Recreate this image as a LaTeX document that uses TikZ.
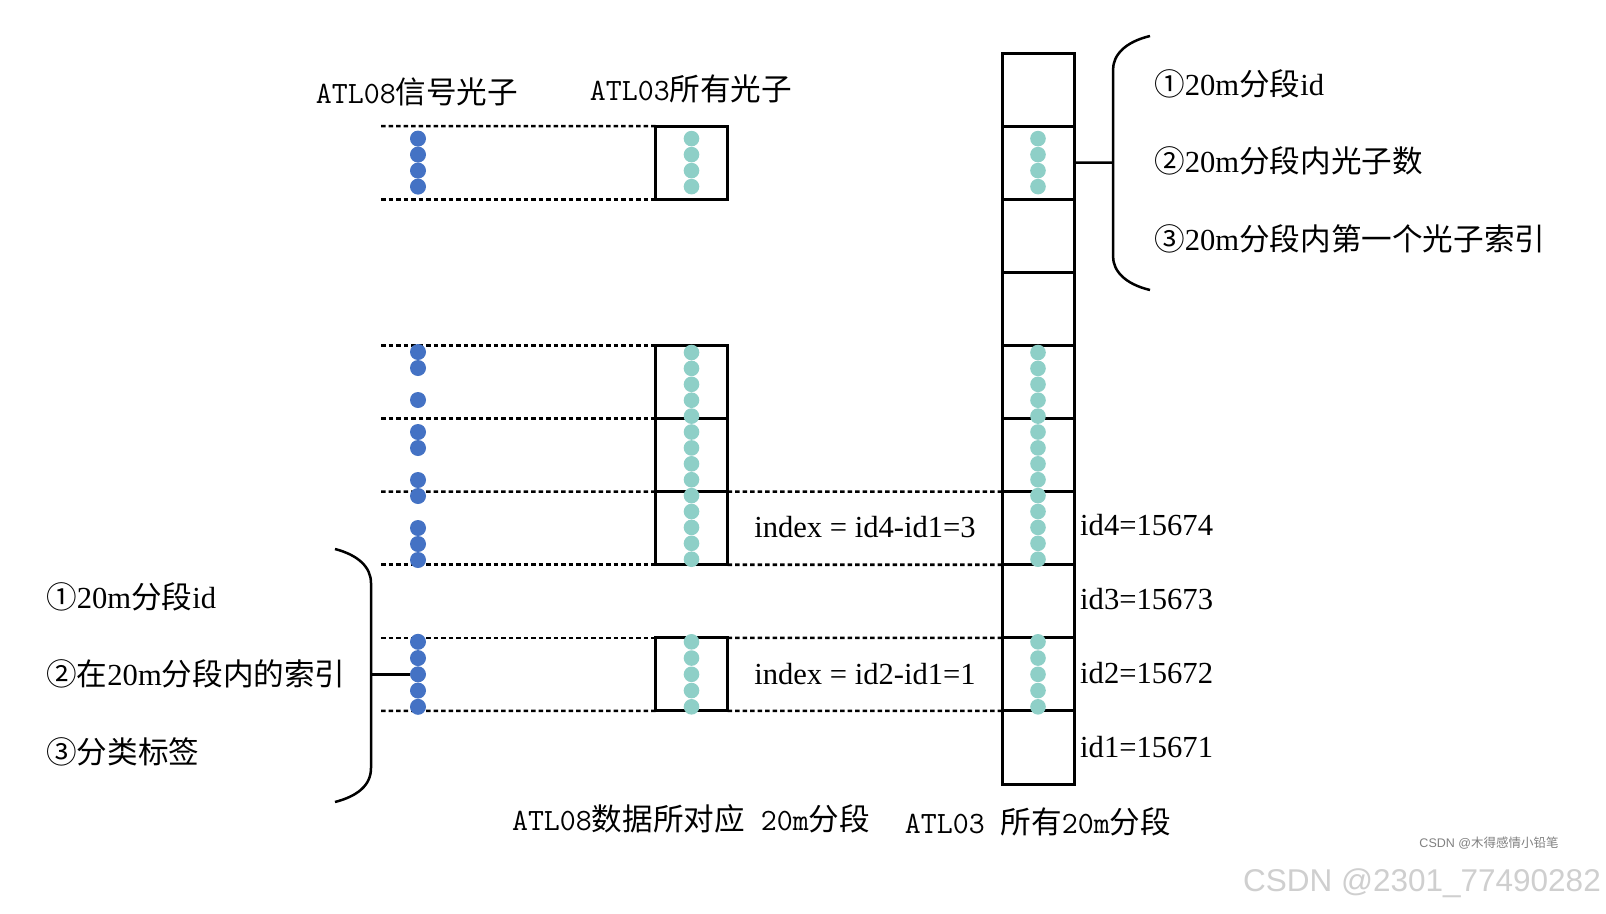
\documentclass[tikz,border=0pt]{standalone}
\usepackage{fontspec}
\setmainfont{Liberation Serif}
\newfontfamily\cjk{Noto Sans CJK SC}
\newcommand\nmono{\ttfamily\fontsize{31}{36}\selectfont}
\newfontfamily\wmfont{Liberation Sans}
\definecolor{dotblue}{HTML}{4472C4}
\definecolor{dotteal}{HTML}{8ECFC7}
\begin{document}
\begin{tikzpicture}[x=1pt,y=-1pt,
  box/.style={draw,line width=3pt,minimum width=72pt,minimum height=73.1pt,inner sep=0pt,outer sep=0pt},
  dline/.style={line width=2.6pt,dash pattern=on 4.5pt off 3pt},
  brace/.style={line width=2.5pt},
  lbl/.style={inner sep=0pt,font=\fontsize{30.6}{36}\selectfont}]
\fill[white] (0,0) rectangle (1606,913);
\useasboundingbox (0,0) rectangle (1606,913);

% right column of 20m segments
\foreach \k in {0,...,9}
  \node[box] (c\k) at (1038,{53+73.1*\k+36.55}) {};

% middle boxes
\node[box] (b1) at (691.5,162.65) {};
\node[box] (b2) at (691.5,381.95) {};
\node[box] (b3) at (691.5,455.05) {};
\node[box] (b4) at (691.5,528.15) {};
\node[box] (b5) at (691.5,674.35) {};

% dashed guide lines
\coordinate (La) at (381,126.1);
\coordinate (Lb) at (381,199.2);
\coordinate (Lc) at (381,345.4);
\coordinate (Ld) at (381,418.5);
\coordinate (Le) at (381,491.6);
\coordinate (Lf) at (381,564.7);
\coordinate (Lg) at (381,637.8);
\coordinate (Lh) at (381,710.9);
\draw[dline] (La) -- (b1.north west);
\draw[dline] (Lb) -- (b1.south west);
\draw[dline] (Lc) -- (b2.north west);
\draw[dline] (Ld) -- (b3.north west);
\draw[dline] (Le) -- (b4.north west);
\draw[dline] (b4.north east) -- (c6.north west);
\draw[dline] (Lf) -- (b4.south west);
\draw[dline] (b4.south east) -- (c6.south west);
\draw[dline] (Lg) -- (b5.north west);
\draw[dline] (b5.north east) -- (c8.north west);
\draw[dline] (Lh) -- (b5.south west);
\draw[dline] (b5.south east) -- (c8.south west);

% braces
\coordinate (rb) at (1113,162.65);
\draw[brace] (1150,36) .. controls (1125,42) and (1113,55) .. (1113,70) -- (1113,256) .. controls (1113,271) and (1125,284) .. (1150,290);
\draw[brace] (c1.east) -- (rb);
\coordinate (lb) at (371,674.35);
\coordinate (ld) at (410,674.35);
\draw[brace] (335,549) .. controls (358,555) and (371,567) .. (371,583) -- (371,768) .. controls (371,785) and (358,796) .. (335,802);
\draw[brace] (lb) -- (ld);

% dots
\foreach \y in {138.6,154.6,170.6,186.6}{
  \fill[dotblue] (418,\y) circle (8pt);
  \fill[dotteal] (691.5,\y) circle (7.8pt);
  \fill[dotteal] (1038,\y) circle (7.8pt);
}
\foreach \i in {0,...,13}{
  \fill[dotteal] (691.5,{352.5+15.9*\i}) circle (7.8pt);
  \fill[dotteal] (1038,{352.5+15.9*\i}) circle (7.8pt);
}
\foreach \i in {0,1,3,5,6,8,9,11,12,13}
  \fill[dotblue] (418,{352+16*\i}) circle (8pt);
\foreach \i in {0,...,4}{
  \fill[dotblue] (418,{641.8+16.25*\i}) circle (8pt);
  \fill[dotteal] (691.5,{641.8+16.25*\i}) circle (7.8pt);
  \fill[dotteal] (1038,{641.8+16.25*\i}) circle (7.8pt);
}

% titles
\node[lbl] (t1) at (417,92) {{\nmono ATL08}{\cjk 信号光子}};
\node[lbl] (t2) at (691,89) {{\nmono ATL03}{\cjk 所有光子}};
\node[lbl] (t3) at (691,819) {{\nmono ATL08}{\cjk 数据所对应}{\nmono{} 20m}{\cjk 分段}};
\node[lbl] (t4) at (1038,822) {{\nmono ATL03 }{\cjk 所有}{\nmono 20m}{\cjk 分段}};

% right list
\node[lbl,anchor=west] (r1) at (1154,84) {{\cjk ①}20m{\cjk 分段}id};
\node[lbl,anchor=west] (r2) at (1154,161) {{\cjk ②}20m{\cjk 分段内光子数}};
\node[lbl,anchor=west] (r3) at (1154,239) {{\cjk ③}20m{\cjk 分段内第一个光子索引}};

% left list
\node[lbl,anchor=west] (l1) at (46,597) {{\cjk ①}20m{\cjk 分段}id};
\node[lbl,anchor=west] (l2) at (46,674) {{\cjk ②在}20m{\cjk 分段内的索引}};
\node[lbl,anchor=west] (l3) at (46,752) {{\cjk ③分类标签}};

% index labels
\node[lbl] (i1) at (865,527) {index = id4-id1=3};
\node[lbl] (i2) at (865,674) {index = id2-id1=1};

% id labels
\node[lbl,anchor=west] (d4) at (1080,525) {id4=15674};
\node[lbl,anchor=west] (d3) at (1080,599) {id3=15673};
\node[lbl,anchor=west] (d2) at (1080,673) {id2=15672};
\node[lbl,anchor=west] (d1) at (1080,747) {id1=15671};

% watermarks
\node[inner sep=0pt,text=black!50,font=\fontsize{12.5}{15}\selectfont] (wm2) at (1489,843) {{\wmfont CSDN @}{\cjk 木得感情小铅笔}};
\node[inner sep=0pt,text=black!19,font=\wmfont\fontsize{31.5}{36}\selectfont] (wm) at (1422,883) {CSDN @2301\_77490282};
\end{tikzpicture}
\end{document}
